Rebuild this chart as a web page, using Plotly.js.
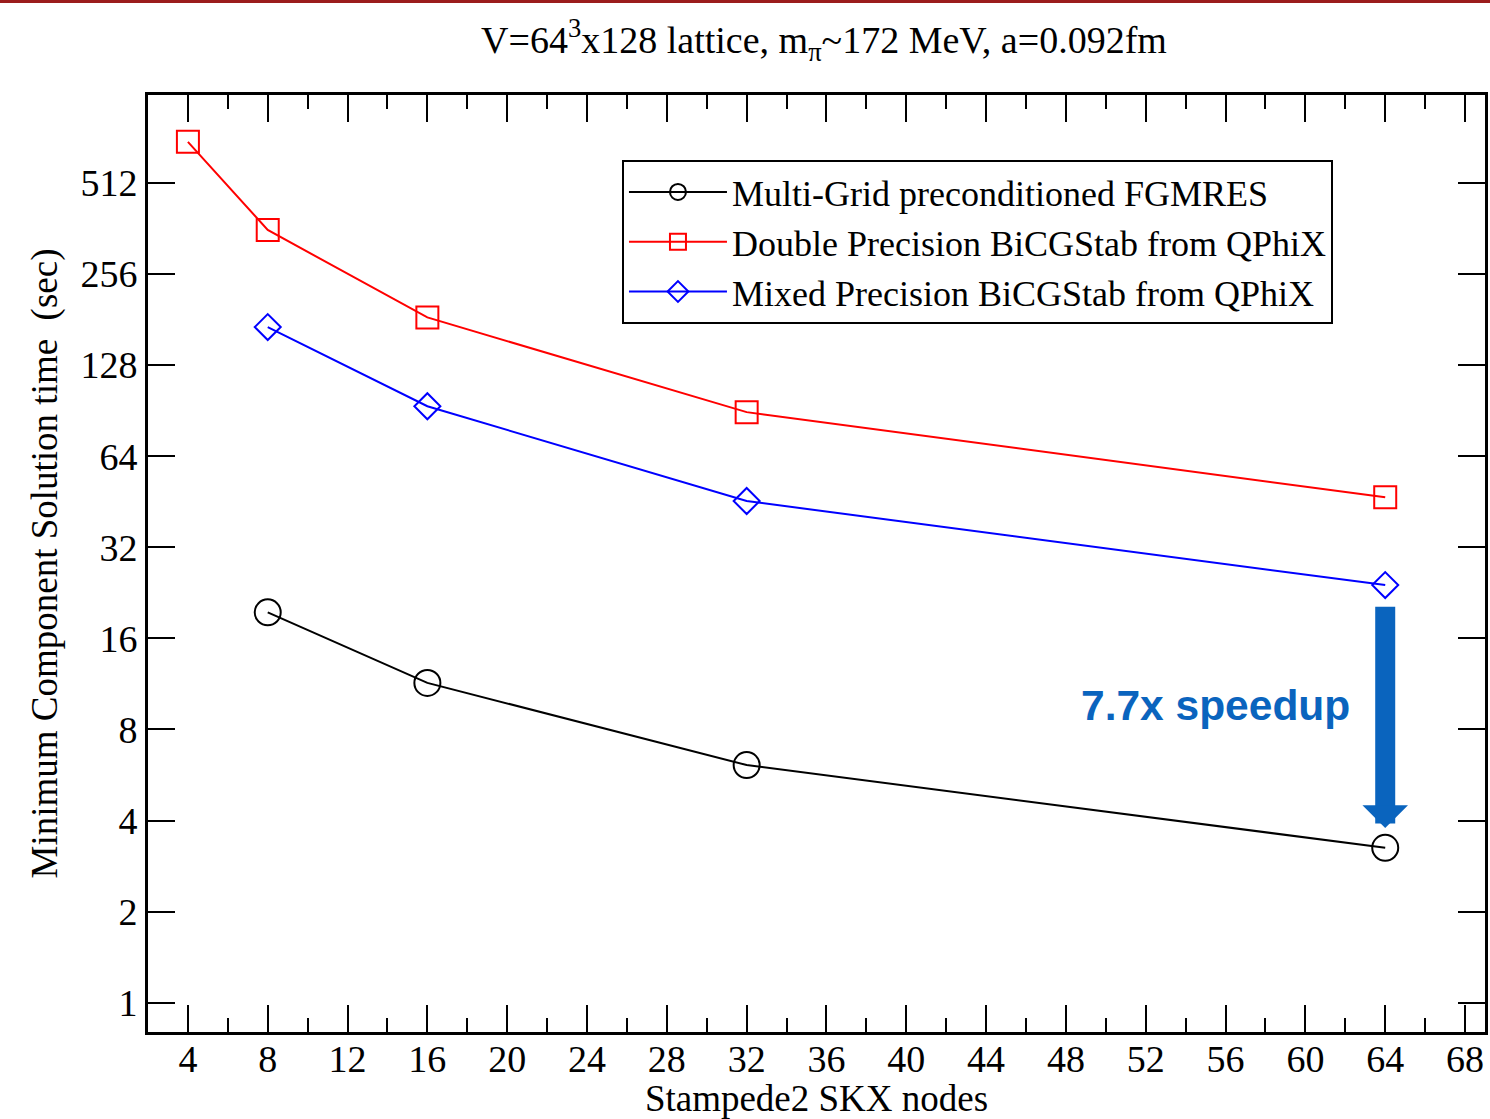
<!DOCTYPE html>
<html>
<head>
<meta charset="utf-8">
<script src="https://cdn.plot.ly/plotly-3.0.1.min.js"></script>
<style>
html,body{margin:0;padding:0;background:#fff;}
body{border-top:3px solid #9b1c1c;box-sizing:border-box;}
#chart{width:1490px;height:1116px;}
</style>
</head>
<body>
<div id="chart"></div>
<script>
// Data
const nodesMG = [8, 16, 32, 64];
const timeMG = [19.5, 11.4, 6.1, 3.25];

const nodesDouble = [4, 8, 16, 32, 64];
const timeDouble = [700, 358, 184, 89.5, 46.8];

const nodesMixed = [8, 16, 32, 64];
const timeMixed = [171, 93.6, 45.5, 24.0];

const seriesNames = [
  "Multi-Grid preconditioned FGMRES",
  "Double Precision BiCGStab from QPhiX",
  "Mixed Precision BiCGStab from QPhiX"
];

const xTickVals = [4, 8, 12, 16, 20, 24, 28, 32, 36, 40, 44, 48, 52, 56, 60, 64, 68];
const yTickVals = [1, 2, 4, 8, 16, 32, 64, 128, 256, 512];
const yTickText = ["1", "2", "4", "8", "16", "32", "64", "128", "256", "512"];

const speedupLabel = "7.7x speedup";
const arrowX = 64, arrowFrom = 20.6, arrowTo = 3.78;
const labelX = 55.5, labelY = 9.6;

const serif = "Liberation Serif, Times New Roman, serif";

const traces = [
  {
    x: nodesMG, y: timeMG, name: seriesNames[0], mode: "lines+markers",
    line: {color: "#000000", width: 2},
    marker: {symbol: "circle-open", size: 26, color: "#000000", line: {width: 2, color: "#000000"}}
  },
  {
    x: nodesDouble, y: timeDouble, name: seriesNames[1], mode: "lines+markers",
    line: {color: "#ff0000", width: 2},
    marker: {symbol: "square-open", size: 22, color: "#ff0000", line: {width: 2, color: "#ff0000"}}
  },
  {
    x: nodesMixed, y: timeMixed, name: seriesNames[2], mode: "lines+markers",
    line: {color: "#0000ff", width: 2},
    marker: {symbol: "diamond-open", size: 20, color: "#0000ff", line: {width: 2, color: "#0000ff"}}
  }
];

const layout = {
  width: 1490, height: 1116,
  margin: {l: 148, r: 5, t: 92, b: 87},
  paper_bgcolor: "#ffffff", plot_bgcolor: "#ffffff",
  font: {family: serif, color: "#000000", size: 37},
  showlegend: true,
  title: {
    text: "V=64<sup>3</sup>x128 lattice, m<sub>π</sub>~172 MeV, a=0.092fm",
    font: {family: serif, size: 38, color: "#000"},
    x: 0.553, xanchor: "center", y: 0.967, yanchor: "middle"
  },
  xaxis: {
    type: "linear", range: [2, 69],
    tickmode: "array", tickvals: xTickVals,
    ticks: "inside", ticklen: 27, tickwidth: 2, tickcolor: "#000",
    minor: {dtick: 2, tick0: 0, ticks: "inside", ticklen: 14, tickwidth: 2, tickcolor: "#000", showgrid: false},
    showline: true, linewidth: 3, linecolor: "#000", mirror: "allticks",
    showgrid: false, zeroline: false,
    tickfont: {family: serif, size: 38},
    ticklabelstandoff: -9,
    title: {text: "Stampede2 SKX nodes", font: {family: serif, size: 37}, standoff: 2}
  },
  yaxis: {
    type: "log", range: [Math.log10(0.8), 3],
    tickmode: "array", tickvals: yTickVals, ticktext: yTickText,
    ticks: "inside", ticklen: 27, tickwidth: 2, tickcolor: "#000",
    showline: true, linewidth: 3, linecolor: "#000", mirror: "allticks",
    showgrid: false, zeroline: false,
    tickfont: {family: serif, size: 38},
    title: {text: "Minimum Component Solution time  (sec)", font: {family: serif, size: 37}, standoff: 12}
  },
  legend: {
    x: 0.3545, y: 0.9306, xanchor: "left", yanchor: "top",
    bgcolor: "#ffffff", bordercolor: "#000", borderwidth: 2,
    font: {family: serif, size: 36, color: "#000"},
    itemwidth: 98,
    traceorder: "normal"
  },
  annotations: [
    {
      x: arrowX, y: Math.log10(arrowTo), ax: arrowX, ay: Math.log10(arrowFrom),
      xref: "x", yref: "y", axref: "x", ayref: "y",
      text: "", showarrow: true, arrowhead: 1, arrowsize: 0.38, arrowwidth: 20,
      arrowcolor: "#0a64be", standoff: 0, startstandoff: 0
    },
    {
      x: labelX, y: Math.log10(labelY), xref: "x", yref: "y",
      text: "<b>" + speedupLabel + "</b>", showarrow: false,
      font: {family: "Liberation Sans, Arial, sans-serif", size: 42.5, color: "#0a64be"}
    }
  ]
};

Plotly.newPlot("chart", traces, layout, {displayModeBar: false, staticPlot: true});
</script>
</body>
</html>
